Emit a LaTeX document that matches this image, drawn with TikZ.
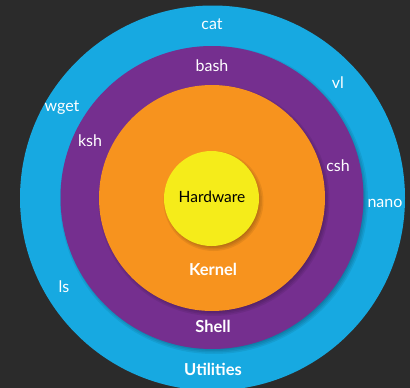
\documentclass[tikz,border=0pt]{standalone}
\usepackage{fontspec}
\setmainfont{Lato}
\definecolor{bgdark}{HTML}{2B2B2B}
\definecolor{utilblue}{HTML}{17A9E1}
\definecolor{shellpurple}{HTML}{752F8F}
\definecolor{kernelorange}{HTML}{F7931E}
\definecolor{hwyellow}{HTML}{F5EC1A}
\tikzset{
  ring/.style={circle, inner sep=0pt, draw=none},
  softshadow/.style={fill=black, fill opacity=0.07},
  lbl/.style={text=white, font=\fontsize{16}{16}\selectfont, inner sep=0pt},
  bigl/.style={text=white, font=\fontsize{16.5}{16.5}\selectfont\bfseries, inner sep=0pt}
}
\newcommand{\softshad}[3]{%
  \foreach \k in {0,1.5,3,4.5}{
    \fill[softshadow] (#1+2,#2+2.5) circle ({#3+\k-2pt});
  }}
\begin{document}
\begin{tikzpicture}[x=1pt,y=-1pt]
\useasboundingbox (0,0) rectangle (410,388);
\clip (0,0) rectangle (410,388);
\fill[bgdark] (0,0) rectangle (410,388);
\node[ring, fill=utilblue, minimum size=385pt] (util) at (212.5,198) {};
\softshad{212}{197.5}{151.5pt}
\node[ring, fill=shellpurple, minimum size=303pt] (shell) at (212,197.5) {};
\softshad{212}{198}{113pt}
\node[ring, fill=kernelorange, minimum size=226pt] (kernel) at (212,198) {};
\softshad{211.5}{198.5}{47.5pt}
\node[ring, fill=hwyellow, minimum size=95pt] (hw) at (211.5,198.5) {};
\node[text=black, font=\fontsize{15.5}{15.5}\selectfont, inner sep=0pt] (hwl) at (212,197) {Hardware};
\node[bigl] (kl) at (213,269) {Kernel};
\node[bigl] (sl) at (213,326) {Shell};
\node[bigl] (ul) at (213,369) {Utilities};
\node[lbl] (cat) at (212,24) {cat};
\node[lbl] (bash) at (212,66) {bash};
\node[lbl] (vl) at (338,83) {vl};
\node[lbl] (wget) at (62,108) {wget};
\node[lbl] (ksh) at (90,141) {ksh};
\node[lbl] (csh) at (338,166) {csh};
\node[lbl] (nano) at (385,203) {nano};
\node[lbl] (ls) at (64,287) {ls};
\end{tikzpicture}
\end{document}
